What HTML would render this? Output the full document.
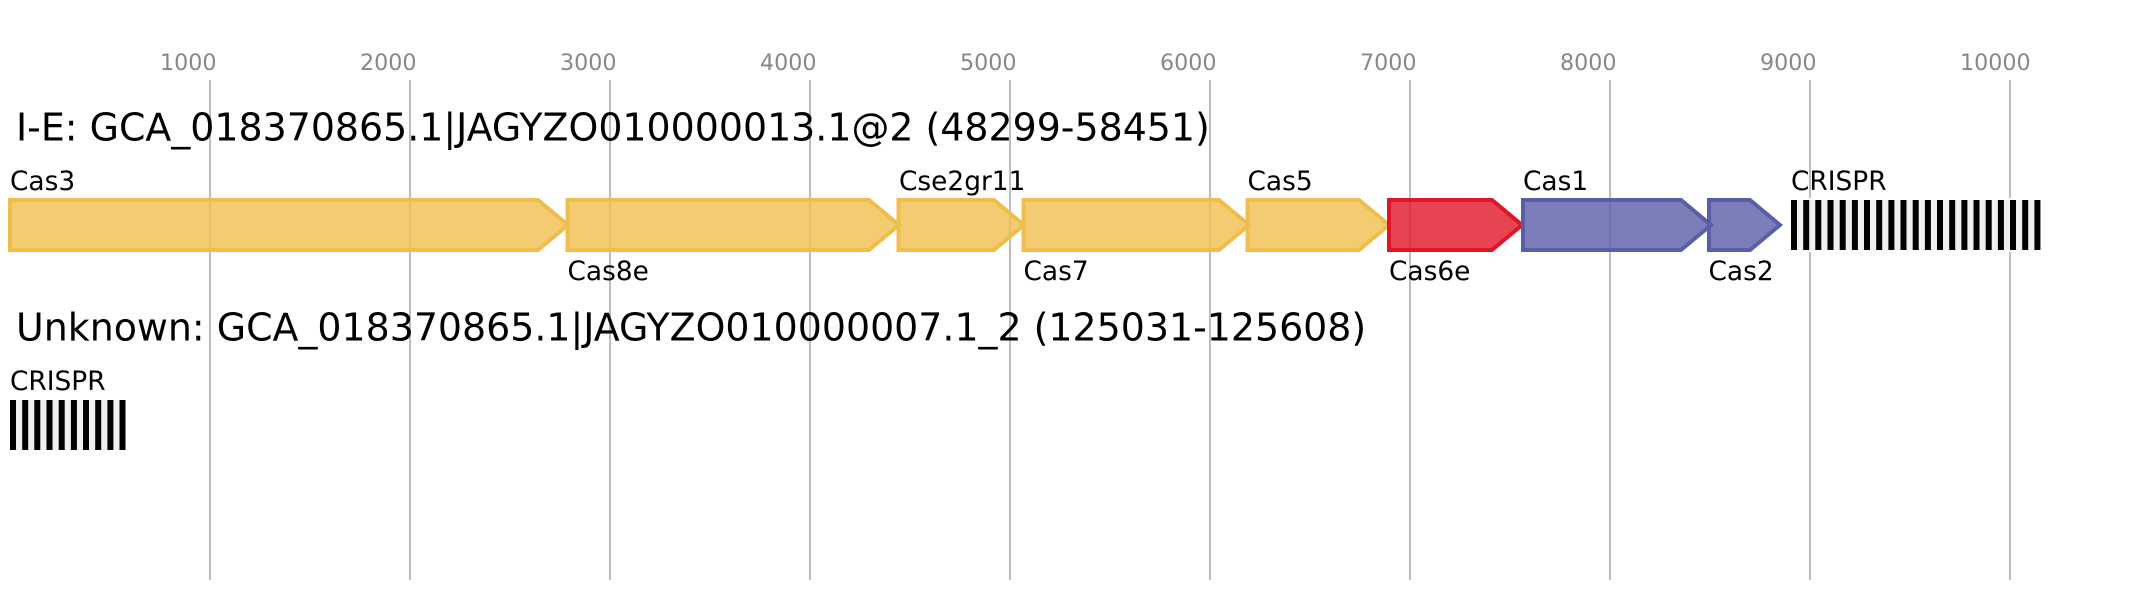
<!DOCTYPE html>
<html>
<head>
<meta charset="utf-8">
<style>
html,body{margin:0;padding:0;background:#fff;width:2130px;height:600px;overflow:hidden}
svg{display:block}
text{font-family:"DejaVu Sans","Liberation Sans",sans-serif}
.t{font-size:22.2px;fill:#888}
.h{font-size:37.9px;fill:#000}
.l{font-size:26.4px;fill:#000}
.y polygon{fill:#f0be4e;fill-opacity:.8;stroke:#efbd4c;stroke-width:4}
.r polygon{fill:#e01528;fill-opacity:.8;stroke:#e01528;stroke-width:4}
.b polygon{fill:#5a5ea8;fill-opacity:.8;stroke:#5a5ea8;stroke-width:4}
</style>
</head>
<body>
<svg width="2130" height="600" viewBox="0 0 2130 600" xmlns="http://www.w3.org/2000/svg">
<rect width="2130" height="600" fill="#fff"/>
<g stroke="#bdbdbd" stroke-width="2">
<line x1="210" y1="80" x2="210" y2="580"/>
<line x1="410" y1="80" x2="410" y2="580"/>
<line x1="610" y1="80" x2="610" y2="580"/>
<line x1="810" y1="80" x2="810" y2="580"/>
<line x1="1010" y1="80" x2="1010" y2="580"/>
<line x1="1210" y1="80" x2="1210" y2="580"/>
<line x1="1410" y1="80" x2="1410" y2="580"/>
<line x1="1610" y1="80" x2="1610" y2="580"/>
<line x1="1810" y1="80" x2="1810" y2="580"/>
<line x1="2010" y1="80" x2="2010" y2="580"/>
</g>
<g class="t">
<text x="160" y="70">1000</text>
<text x="360" y="70">2000</text>
<text x="560" y="70">3000</text>
<text x="760" y="70">4000</text>
<text x="960" y="70">5000</text>
<text x="1160" y="70">6000</text>
<text x="1360" y="70">7000</text>
<text x="1560" y="70">8000</text>
<text x="1760" y="70">9000</text>
<text x="1960" y="70">10000</text>
</g>
<text class="h" x="16" y="140.5">I-E: GCA_018370865.1|JAGYZO010000013.1@2 (48299-58451)</text>
<text class="h" x="16" y="340.5">Unknown: GCA_018370865.1|JAGYZO010000007.1_2 (125031-125608)</text>

<g class="y">
<polygon points="10,200 538,200 568,225 538,250 10,250"/>
<polygon points="567.5,200 869,200 899,225 869,250 567.5,250"/>
<polygon points="898.5,200 994,200 1024,225 994,250 898.5,250"/>
<polygon points="1023.5,200 1219,200 1249,225 1219,250 1023.5,250"/>
<polygon points="1247.5,200 1359,200 1389,225 1359,250 1247.5,250"/>
</g>
<g class="r">
<polygon points="1389,200 1492,200 1522,225 1492,250 1389,250"/>
</g>
<g class="b">
<polygon points="1523,200 1681,200 1711,225 1681,250 1523,250"/>
<polygon points="1709,200 1750,200 1780,225 1750,250 1709,250"/>
</g>

<g class="l">
<text x="10" y="190">Cas3</text>
<text x="567.5" y="280">Cas8e</text>
<text x="899" y="190">Cse2gr11</text>
<text x="1023.5" y="280">Cas7</text>
<text x="1247.5" y="190">Cas5</text>
<text x="1389" y="280">Cas6e</text>
<text x="1523" y="190">Cas1</text>
<text x="1708.5" y="280">Cas2</text>
<text x="1791" y="190">CRISPR</text>
<text x="10" y="390">CRISPR</text>
</g>

<rect x="1789" y="198" width="254" height="54" fill="#fff"/>
<rect x="1791" y="200" width="250" height="50" fill="#f0f0f0"/>
<g fill="#000">
<rect x="1791" y="200" width="6" height="50"/><rect x="1803.2" y="200" width="6" height="50"/><rect x="1815.3" y="200" width="6" height="50"/><rect x="1827.5" y="200" width="6" height="50"/><rect x="1839.7" y="200" width="6" height="50"/><rect x="1851.9" y="200" width="6" height="50"/><rect x="1864" y="200" width="6" height="50"/><rect x="1876.2" y="200" width="6" height="50"/><rect x="1888.4" y="200" width="6" height="50"/><rect x="1900.5" y="200" width="6" height="50"/><rect x="1912.7" y="200" width="6" height="50"/><rect x="1924.9" y="200" width="6" height="50"/><rect x="1937" y="200" width="6" height="50"/><rect x="1949.2" y="200" width="6" height="50"/><rect x="1961.4" y="200" width="6" height="50"/><rect x="1973.5" y="200" width="6" height="50"/><rect x="1985.7" y="200" width="6" height="50"/><rect x="1997.9" y="200" width="6" height="50"/><rect x="2010" y="200" width="6" height="50"/><rect x="2022.2" y="200" width="6" height="50"/><rect x="2034.4" y="200" width="6" height="50"/>
</g>
<rect x="10" y="400" width="115.5" height="50" fill="#f0f0f0"/>
<g fill="#000">
<rect x="10" y="400" width="6" height="50"/><rect x="22.2" y="400" width="6" height="50"/><rect x="34.3" y="400" width="6" height="50"/><rect x="46.5" y="400" width="6" height="50"/><rect x="58.7" y="400" width="6" height="50"/><rect x="70.9" y="400" width="6" height="50"/><rect x="83" y="400" width="6" height="50"/><rect x="95.2" y="400" width="6" height="50"/><rect x="107.4" y="400" width="6" height="50"/><rect x="119.5" y="400" width="6" height="50"/>
</g>
</svg>
</body>
</html>
